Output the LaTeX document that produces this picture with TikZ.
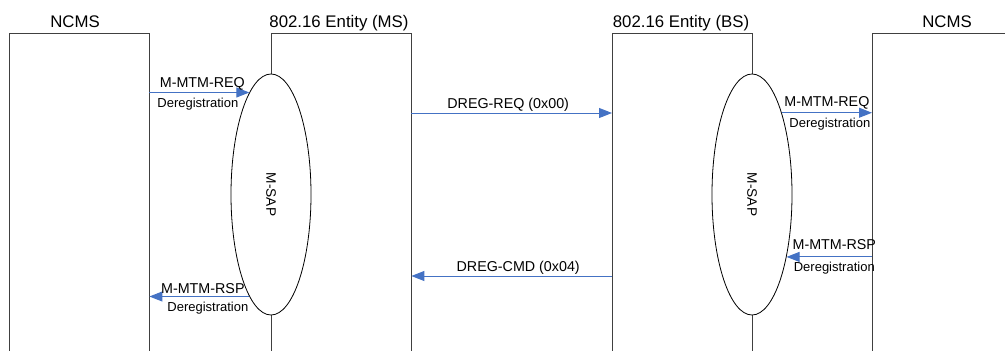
\documentclass[tikz,border=0pt]{standalone}
\usepackage{fontspec}
\setmainfont{Liberation Sans}
\usetikzlibrary{arrows.meta,shapes.geometric,calc}
\definecolor{arrowblue}{HTML}{4472C4}
\definecolor{boxgray}{HTML}{404040}
\begin{document}
\begin{tikzpicture}[x=1pt,y=-1pt,
  lifebox/.style={draw=none,minimum width=140pt,minimum height=318pt,inner sep=0,anchor=north west},
  boxline/.style={draw=boxgray,line width=0.9pt},
  titletext/.style={font=\fontsize{16.8}{18}\selectfont,anchor=base,inner sep=0},
  sap/.style={ellipse,draw=black,line width=0.8pt,fill=white,minimum width=80pt,minimum height=241pt,inner sep=0},
  saptext/.style={rotate=-90,font=\fontsize{13.7}{15}\selectfont,inner sep=0},
  msg/.style={draw=arrowblue,line width=1pt,-{Triangle[length=13pt,width=10pt]}},
  lbl/.style={font=\fontsize{14.3}{16}\selectfont,inner sep=1.5pt,text depth=0.25em,above},
  sublbl/.style={font=\fontsize{13}{14}\selectfont,inner sep=1.5pt,below,yshift=-3.5pt}]
\useasboundingbox (0,0) rectangle (1005,351);
\node[lifebox] (ncmsL) at (9,33) {};
\node[lifebox] (ms) at (271,33) {};
\node[lifebox] (bs) at (612,33) {};
\node[lifebox,minimum width=133pt] (ncmsR) at (872,33) {};
\draw[boxline] (ncmsL.south west) -- (ncmsL.north west) -- (ncmsL.north east) -- (ncmsL.south east);
\draw[boxline] (ms.south west) -- (ms.north west) -- (ms.north east) -- (ms.south east);
\draw[boxline] (bs.south west) -- (bs.north west) -- (bs.north east) -- (bs.south east);
\draw[boxline] (ncmsR.south west) -- (ncmsR.north west) -- (ncmsR.north east);
\node[titletext] (tNL) at (75,27) {NCMS};
\node[titletext] (tMS) at (339,27) {802.16 Entity (MS)};
\node[titletext] (tBS) at (681,27) {802.16 Entity (BS)};
\node[titletext] (tNR) at (947,27) {NCMS};
\node[sap] (sap1) at (271,194.5) {};
\node[saptext] (sap1t) at (sap1.center) {M-SAP};
\node[sap] (sap2) at (752,194.5) {};
\node[saptext] (sap2t) at (sap2.center) {M-SAP};
\coordinate (yreq) at (0,113);
\coordinate (ycmd) at (0,276);
% MS side
\draw[msg] (ncmsL.east |- sap1.102) -- node[lbl,xshift=3pt] (l1) {M-MTM-REQ} node[sublbl,xshift=-1.5pt] (l2) {Deregistration} (sap1.102);
\draw[msg] (sap1.258) -- node[lbl,xshift=3.5pt,yshift=-1pt] (l3) {M-MTM-RSP} node[sublbl,xshift=8.5pt] (l4) {Deregistration} (ncmsL.east |- sap1.258);
% 802.16 messages
\draw[msg] (ms.east |- yreq) -- node[lbl,xshift=-3.5pt] (l5) {DREG-REQ (0x00)} (bs.west |- yreq);
\draw[msg] (bs.west |- ycmd) -- node[lbl,xshift=6.5pt] (l6) {DREG-CMD (0x04)} (ms.east |- ycmd);
% BS side
\draw[msg] (sap2.70) -- node[lbl,yshift=2pt] (l7) {M-MTM-REQ} node[sublbl,xshift=3pt] (l8) {Deregistration} (ncmsR.west |- sap2.70);
\draw[msg] (ncmsR.west |- sap2.299) -- node[lbl,xshift=5pt,yshift=3pt] (l9) {M-MTM-RSP} node[sublbl,xshift=5pt] (l10) {Deregistration} (sap2.299);
\end{tikzpicture}
\end{document}
